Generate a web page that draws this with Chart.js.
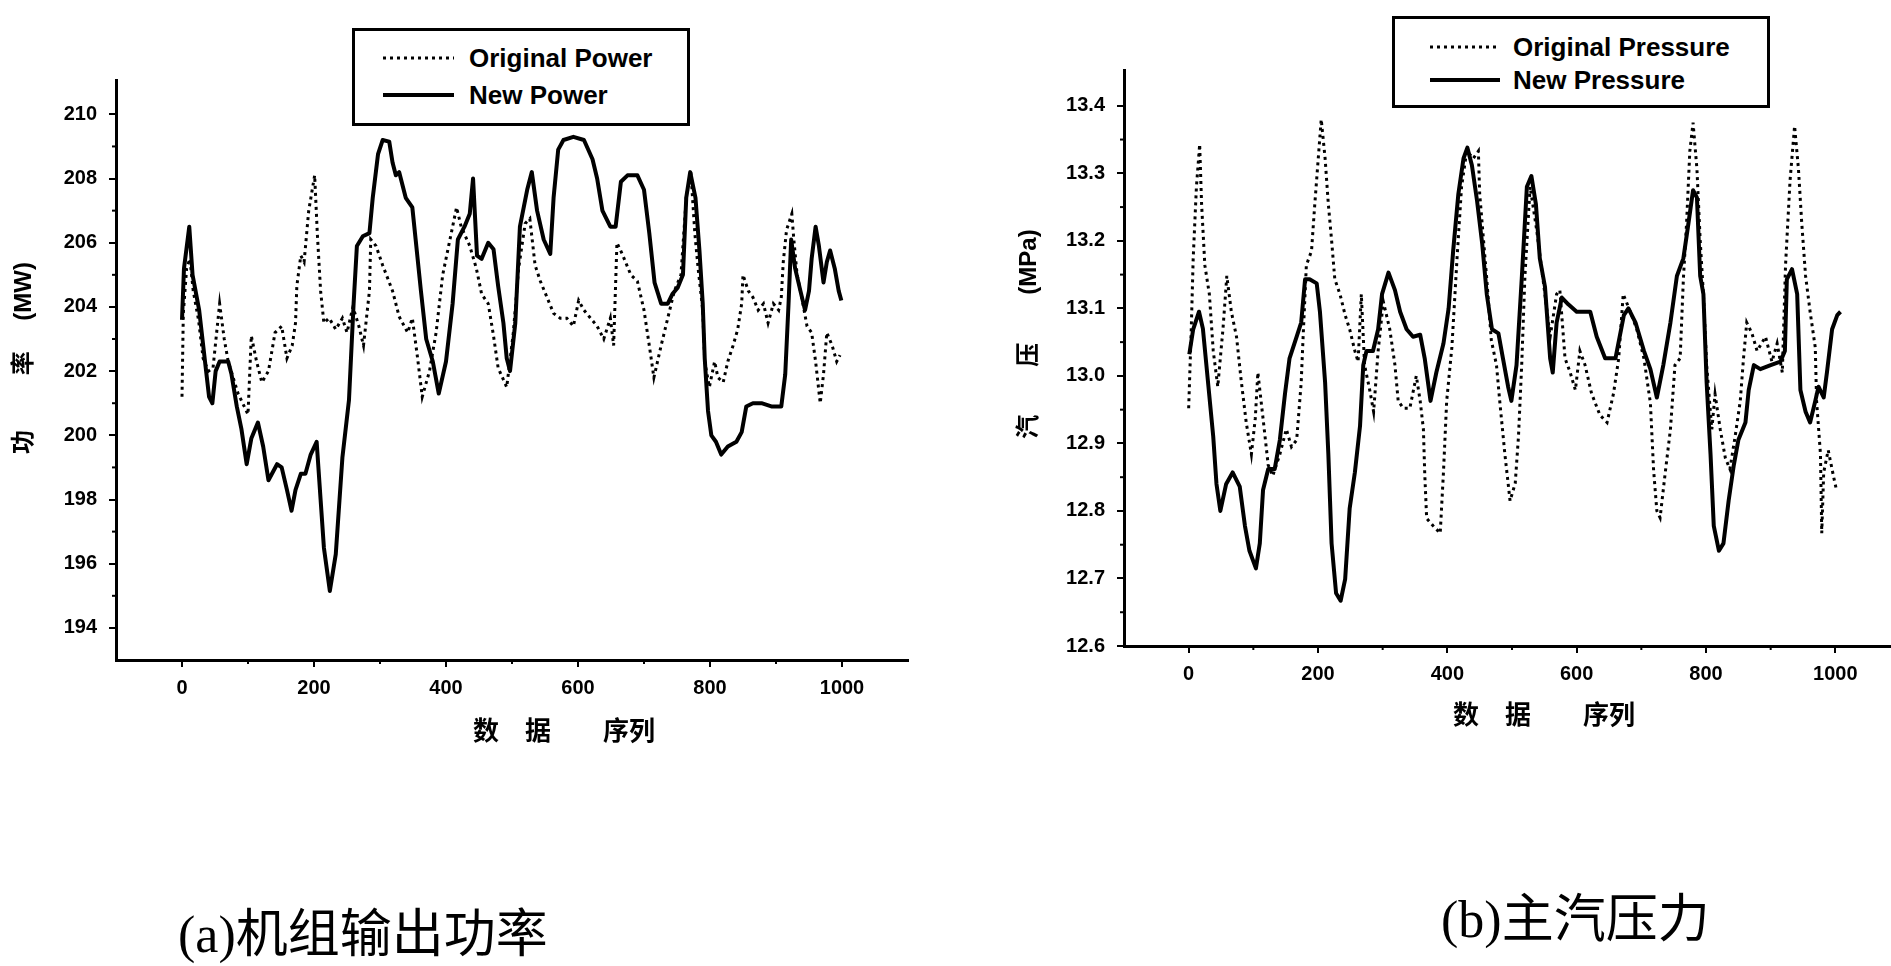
<!DOCTYPE html>
<html>
<head>
<meta charset="utf-8">
<script src="https://cdn.jsdelivr.net/npm/chart.js@4.4.1/dist/chart.umd.min.js"></script>
<style>
html,body{margin:0;padding:0;background:#fff;overflow:hidden;}
#stage{position:relative;width:1891px;height:966px;overflow:hidden;background:#fff;}
canvas{position:absolute;top:0;}
#cPower{left:0;}
#cPress{left:1000px;}
.legend{position:absolute;border:3px solid #000;box-sizing:border-box;background:#fff;
  font:bold 26px 'Liberation Sans',Arial,sans-serif;color:#000;}
.row{position:absolute;height:30px;line-height:30px;white-space:nowrap;}
.row svg{position:absolute;top:0;}
.cap{position:absolute;font-size:52px;line-height:60px;white-space:nowrap;color:#000;
  font-family:'Noto Sans CJK SC',sans-serif;}
.cap .lat{font-family:'Liberation Serif',serif;}
</style>
</head>
<body>
<div id="stage">
  <canvas id="cPower" width="930" height="780"></canvas>
  <canvas id="cPress" width="900" height="780"></canvas>

  <div class="legend" style="left:352px;top:28px;width:338px;height:98px;">
    <div class="row" style="left:0;top:12px;width:330px;">
      <svg width="80" height="30" style="left:28px"><line x1="0" y1="15" x2="71" y2="15" stroke="#000" stroke-width="3" stroke-dasharray="3 4"/></svg>
      <span style="position:absolute;left:114px;">Original Power</span>
    </div>
    <div class="row" style="left:0;top:49px;width:330px;">
      <svg width="80" height="30" style="left:28px"><line x1="0" y1="15" x2="71" y2="15" stroke="#000" stroke-width="4"/></svg>
      <span style="position:absolute;left:114px;">New Power</span>
    </div>
  </div>

  <div class="legend" style="left:1392px;top:16px;width:378px;height:92px;">
    <div class="row" style="left:0;top:13px;width:370px;">
      <svg width="80" height="30" style="left:35px"><line x1="0" y1="15" x2="70" y2="15" stroke="#000" stroke-width="3" stroke-dasharray="3 4"/></svg>
      <span style="position:absolute;left:118px;">Original Pressure</span>
    </div>
    <div class="row" style="left:0;top:46px;width:370px;">
      <svg width="80" height="30" style="left:35px"><line x1="0" y1="15" x2="70" y2="15" stroke="#000" stroke-width="4"/></svg>
      <span style="position:absolute;left:118px;">New Pressure</span>
    </div>
  </div>

  <div class="cap" style="left:178px;top:900px;"><span class="lat">(a)</span>机组输出功率</div>
  <div class="cap" style="left:1441px;top:885px;"><span class="lat">(b)</span>主汽压力</div>
</div>

<script>
// ---------- tick values ----------
const xTickValues = [0, 200, 400, 600, 800, 1000];
const xMinorTicks = [100, 300, 500, 700, 900];
const powerTickValues = [194, 196, 198, 200, 202, 204, 206, 208, 210];
const powerMinorTicks = [195, 197, 199, 201, 203, 205, 207, 209];
const pressureTickValues = [12.6, 12.7, 12.8, 12.9, 13.0, 13.1, 13.2, 13.3, 13.4];
const pressureMinorTicks = [12.65, 12.75, 12.85, 12.95, 13.05, 13.15, 13.25, 13.35];

// ---------- (a) unit output power (MW) ----------
const origPowerX = [0,2,7,12,17,25,32,40,47,57,64,70,85,100,105,113,121,131,141,151,159,167,172,174,180,185,192,201,205,210,215,223,233,243,250,259,268,275,284,286,294,304,319,329,342,349,357,364,375,385,395,405,416,423,436,446,454,464,472,479,492,502,510,520,527,535,543,553,563,573,583,593,601,609,619,629,639,649,654,659,667,680,690,700,708,715,726,736,746,756,764,771,777,782,789,792,799,807,812,820,827,835,842,848,850,858,865,873,881,888,896,904,908,911,916,924,927,932,939,947,954,960,967,972,977,985,992,997];
const origPowerY = [201.2,203.8,205.2,205.5,204.5,203.6,202.4,202.0,202.1,204.1,203.0,202.3,201.3,200.65,203.1,202.3,201.65,202.0,203.2,203.4,202.4,202.8,203.5,204.65,205.6,205.4,207.0,208.1,206.3,204.5,203.5,203.65,203.3,203.65,203.2,204.0,203.4,202.8,204.5,206.1,205.9,205.3,204.5,203.7,203.2,203.65,202.4,201.2,202.0,203.2,205.0,206.0,207.1,206.5,205.9,205.2,204.4,204.1,203.1,202.1,201.5,203.2,205.2,206.6,206.75,205.3,204.8,204.3,203.8,203.65,203.65,203.4,204.2,203.9,203.65,203.4,203.0,203.65,202.8,206.0,205.65,205.0,204.8,203.9,202.8,201.8,202.8,203.65,204.5,205.0,207.4,208.2,206.3,205.2,203.9,202.3,201.5,202.3,201.8,201.65,202.3,202.8,203.3,204.1,205.0,204.5,204.3,203.9,204.1,203.5,204.1,203.9,204.3,205.4,206.4,206.9,206.1,205.0,204.3,203.4,203.2,202.3,201.0,201.9,203.2,202.8,202.3,202.5];

const newPowerX = [0,3,11,16,26,36,41,46,51,57,70,75,83,90,98,105,115,123,131,144,151,159,166,172,180,187,195,204,210,215,224,233,243,253,260,265,274,284,289,297,304,314,319,324,329,339,349,354,362,370,380,389,400,410,418,428,436,441,447,454,464,472,479,487,492,497,505,512,523,530,538,548,558,563,570,578,593,609,622,629,637,649,657,665,675,690,700,708,716,726,736,743,751,759,764,770,778,784,789,792,797,802,809,817,827,840,848,855,865,878,893,908,914,919,923,929,937,944,950,954,960,965,972,977,982,989,995,999];
const newPowerY = [203.6,205.2,206.5,205.0,203.9,202.1,201.2,201.0,202.0,202.3,202.3,201.9,200.9,200.2,199.1,199.9,200.4,199.65,198.6,199.1,199.0,198.3,197.65,198.3,198.8,198.8,199.4,199.8,198.0,196.5,195.15,196.3,199.3,201.1,204.1,205.9,206.2,206.3,207.4,208.76,209.2,209.15,208.5,208.1,208.2,207.4,207.1,206.1,204.5,203.0,202.3,201.3,202.3,204.1,206.1,206.5,206.9,208.0,205.6,205.5,206.0,205.8,204.65,203.5,202.4,202.0,203.5,206.5,207.65,208.2,207.0,206.1,205.65,207.4,208.9,209.2,209.3,209.2,208.6,208.0,207.0,206.5,206.5,207.9,208.1,208.1,207.65,206.3,204.76,204.1,204.1,204.4,204.6,205.0,207.4,208.2,207.4,205.76,204.1,202.4,200.76,200.0,199.8,199.4,199.65,199.8,200.1,200.9,201.0,201.0,200.9,200.9,201.9,204.1,206.1,205.2,204.5,203.9,204.5,205.5,206.5,205.9,204.76,205.4,205.76,205.2,204.5,204.2];

// ---------- (b) main steam pressure (MPa) ----------
const origPressX = [0,4,7,12,17,20,25,32,38,45,53,59,66,74,81,89,97,103,107,115,123,130,141,151,159,167,174,177,182,190,195,200,205,211,216,221,226,234,242,249,257,262,267,272,280,286,293,301,311,319,324,332,342,352,358,363,365,368,378,389,394,399,407,415,422,430,440,448,450,461,468,476,481,489,497,505,510,515,520,528,538,548,559,569,574,582,590,598,605,613,623,636,647,657,665,672,683,693,704,714,719,724,729,737,745,752,760,765,770,775,780,786,791,796,801,809,814,822,830,837,845,853,858,863,871,879,892,902,910,918,923,930,937,943,948,954,961,969,971,977,979,982,989,997,1002];
const origPressY = [12.952,13.069,13.174,13.28,13.343,13.254,13.164,13.121,13.037,12.984,13.069,13.148,13.095,13.058,12.995,12.931,12.884,12.937,13.005,12.937,12.868,12.852,12.884,12.921,12.895,12.905,12.99,13.058,13.164,13.185,13.254,13.317,13.38,13.322,13.254,13.201,13.143,13.121,13.09,13.069,13.037,13.021,13.121,13.016,12.979,12.947,13.037,13.11,13.069,13.016,12.963,12.952,12.952,13.0,12.963,12.921,12.857,12.789,12.778,12.767,12.857,12.963,13.042,13.174,13.28,13.333,13.322,13.333,13.27,13.143,13.053,13.016,12.963,12.884,12.815,12.841,12.91,13.016,13.148,13.28,13.217,13.143,13.058,13.121,13.127,13.026,13.005,12.979,13.037,13.016,12.974,12.942,12.931,12.974,13.026,13.121,13.095,13.069,13.026,12.96,12.86,12.8,12.79,12.857,12.921,13.016,13.026,13.143,13.227,13.333,13.375,13.306,13.201,13.121,13.016,12.921,12.973,12.921,12.878,12.862,12.91,12.963,13.026,13.079,13.063,13.037,13.058,13.021,13.048,13.005,13.164,13.29,13.37,13.306,13.227,13.148,13.095,13.042,12.963,12.884,12.767,12.857,12.89,12.852,12.83];

const newPressX = [1,7,16,22,30,38,43,49,58,68,79,87,94,104,110,115,123,133,141,149,156,167,174,180,187,198,203,211,216,221,228,235,242,249,257,265,270,275,285,293,299,309,319,327,337,347,358,365,374,383,394,402,409,417,425,431,438,446,454,461,469,479,486,494,499,507,515,523,530,537,543,551,559,563,569,577,587,600,621,631,644,660,673,680,691,704,714,724,734,745,755,765,773,780,786,791,796,801,807,812,820,827,835,843,850,861,866,874,884,900,915,922,925,933,941,946,954,961,969,974,982,987,995,1003,1008];
const newPressY = [13.032,13.069,13.095,13.07,12.99,12.91,12.84,12.8,12.84,12.857,12.836,12.778,12.741,12.715,12.752,12.831,12.862,12.862,12.905,12.974,13.026,13.058,13.079,13.143,13.143,13.137,13.095,12.99,12.884,12.752,12.678,12.667,12.699,12.804,12.857,12.926,13.016,13.037,13.037,13.069,13.121,13.153,13.127,13.095,13.069,13.058,13.061,13.026,12.963,13.005,13.048,13.1,13.185,13.269,13.322,13.338,13.312,13.259,13.195,13.121,13.069,13.063,13.026,12.984,12.963,13.016,13.143,13.28,13.296,13.254,13.174,13.132,13.026,13.005,13.079,13.116,13.106,13.095,13.095,13.058,13.026,13.026,13.09,13.1,13.079,13.037,13.01,12.968,13.016,13.079,13.148,13.174,13.227,13.275,13.264,13.148,13.121,12.99,12.884,12.778,12.741,12.752,12.815,12.868,12.905,12.931,12.979,13.016,13.01,13.016,13.021,13.037,13.143,13.158,13.121,12.979,12.947,12.931,12.963,12.984,12.968,13.005,13.069,13.09,13.095];

// ---------- helpers ----------
const FONT = "'Liberation Sans', 'Noto Sans CJK SC', Arial, sans-serif";
const CJK = "'Noto Sans CJK SC', 'Liberation Sans', sans-serif";
const toPts = (xs, ys) => xs.map((x, i) => ({ x: x, y: ys[i] }));

const minorTickPlugin = {
  id: 'minorTicks',
  afterDraw(chart, args, opts) {
    const ctx = chart.ctx, xs = chart.scales.x, ys = chart.scales.y;
    ctx.save();
    ctx.strokeStyle = '#000';
    ctx.lineWidth = 2;
    (opts.x || []).forEach(v => {
      const p = xs.getPixelForValue(v);
      ctx.beginPath(); ctx.moveTo(p, xs.top); ctx.lineTo(p, xs.top + 4); ctx.stroke();
    });
    (opts.y || []).forEach(v => {
      const p = ys.getPixelForValue(v);
      ctx.beginPath(); ctx.moveTo(ys.right, p); ctx.lineTo(ys.right - 4, p); ctx.stroke();
    });
    ctx.restore();
  }
};

function makeChart(id, c) {
  return new Chart(document.getElementById(id), {
    type: 'line',
    data: {
      datasets: [
        { label: c.newLabel, data: toPts(c.newX, c.newY), borderColor: '#000', borderWidth: 4,
          pointRadius: 0, tension: 0, fill: false, borderJoinStyle: 'round', order: 0 },
        { label: c.origLabel, data: toPts(c.origX, c.origY), borderColor: '#000', borderWidth: 3,
          borderDash: [3, 4], pointRadius: 0, tension: 0, fill: false, order: 1 }
      ]
    },
    options: {
      responsive: false, maintainAspectRatio: false, animation: false,
      devicePixelRatio: 1,
      layout: { padding: { top: c.padTop, right: c.padRight, left: 0, bottom: 0 } },
      plugins: {
        legend: { display: false }, tooltip: { enabled: false },
        minorTicks: { x: xMinorTicks, y: c.yMinor }
      },
      scales: {
        x: {
          type: 'linear', min: -100, max: 1100,
          afterFit: s => { s.height = c.xAxisH; },
          afterBuildTicks: s => { s.ticks = xTickValues.map(v => ({ value: v })); },
          grid: { display: true, drawOnChartArea: false, drawTicks: true, tickLength: 7, color: '#000', lineWidth: 2 },
          border: { display: true, color: '#000', width: 3 },
          ticks: { autoSkip: false, maxRotation: 0, padding: 9, color: '#000',
                   font: { family: FONT, size: 20, weight: 'bold' }, callback: v => String(v) },
          title: { display: true, text: c.xTitle, color: '#000',
                   font: { family: CJK, size: 26, weight: 'bold', lineHeight: 1.2 },
                   padding: { top: 0, bottom: c.xTitlePad } }
        },
        y: {
          type: 'linear', min: c.yMin, max: c.yMax,
          afterFit: s => { s.width = c.yAxisW; },
          afterBuildTicks: s => { s.ticks = c.yTicks.map(v => ({ value: v })); },
          grid: { display: true, drawOnChartArea: false, drawTicks: true, tickLength: 7, color: '#000', lineWidth: 2 },
          border: { display: true, color: '#000', width: 3 },
          ticks: { autoSkip: false, padding: 12, color: '#000',
                   font: { family: FONT, size: 20, weight: 'bold' }, callback: c.yFmt },
          title: { display: true, text: c.yTitle, color: '#000',
                   font: { family: FONT, size: 24, weight: 'bold', lineHeight: 1.2 },
                   padding: { top: c.yTitlePad, bottom: 0 } }
        }
      }
    },
    plugins: [minorTickPlugin]
  });
}

makeChart('cPower', {
  newLabel: 'New Power', origLabel: 'Original Power',
  newX: newPowerX, newY: newPowerY, origX: origPowerX, origY: origPowerY,
  padTop: 80, padRight: 22, xAxisH: 120, yAxisW: 116,
  yMin: 193, yMax: 211.07, yTicks: powerTickValues, yMinor: powerMinorTicks,
  yFmt: v => String(v),
  xTitle: '\u3000\u3000\u3000\u3000数\u3000据\u3000\u3000序列', xTitlePad: 34,
  yTitle: '\u3000功\u3000\u3000 率\u3000 (MW)', yTitlePad: 9.6
});

makeChart('cPress', {
  newLabel: 'New Pressure', origLabel: 'Original Pressure',
  newX: newPressX, newY: newPressY, origX: origPressX, origY: origPressY,
  padTop: 70, padRight: 0, xAxisH: 134, yAxisW: 124,
  yMin: 12.6, yMax: 13.453, yTicks: pressureTickValues, yMinor: pressureMinorTicks,
  yFmt: v => Number(v).toFixed(1),
  xTitle: '\u3000\u3000  数\u3000据\u3000\u3000序列', xTitlePad: 50,
  yTitle: '\u3000\u3000汽\u3000\u3000压\u3000\u3000(MPa)', yTitlePad: 14.6
});
</script>
</body>
</html>
